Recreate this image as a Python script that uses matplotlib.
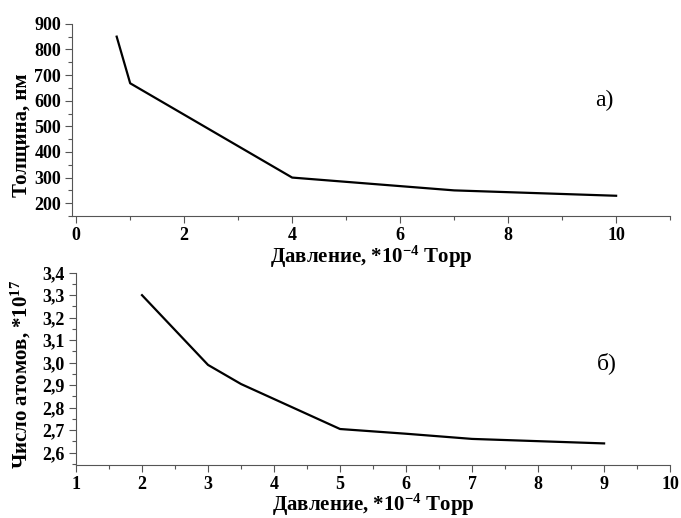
import matplotlib
matplotlib.use('Agg')
import matplotlib.pyplot as plt
from matplotlib.ticker import MultipleLocator, FuncFormatter

plt.rcParams.update({
    "font.family": ["Liberation Serif", "DejaVu Serif"],
    "font.weight": "bold",
    "mathtext.fontset": "custom",
    "mathtext.rm": "Liberation Serif:bold",
    "mathtext.it": "Liberation Serif:bold",
    "mathtext.bf": "Liberation Serif:bold",
})

# panel a) thickness vs pressure
press_a = [0.75, 1, 4, 7, 10]
thick_a = [850, 668, 300, 250, 229]

# panel б) number of atoms vs pressure
press_b = [2, 3, 3.5, 5, 6, 7, 8, 9]
atoms_b = [3.30, 2.99, 2.905, 2.705, 2.684, 2.661, 2.651, 2.641]

xlabel = "Давление, *10$^{-4}$ Торр"

fig = plt.figure(figsize=(6.81, 5.18), dpi=100)
ax1 = fig.add_axes([0.106, 0.583, 0.878, 0.371])
ax2 = fig.add_axes([0.1116, 0.1023, 0.8724, 0.3713])

spine_col = "#555555"
for ax in (ax1, ax2):
    for s in ("top", "right"):
        ax.spines[s].set_visible(False)
    for s in ("left", "bottom"):
        ax.spines[s].set_color(spine_col)
        ax.spines[s].set_linewidth(0.8)
    ax.tick_params(which="major", direction="out", length=5, width=0.8,
                   color=spine_col, labelsize=13, pad=3)
    ax.tick_params(which="minor", direction="out", length=3, width=0.8,
                   color=spine_col)

ax1.plot(press_a, thick_a, color="black", lw=1.6)
ax1.set_xlim(-0.074, 11.0)
ax1.set_ylim(150, 900)
ax1.xaxis.set_minor_locator(MultipleLocator(1))
ax1.yaxis.set_minor_locator(MultipleLocator(50))
ax1.set_yticks([200, 300, 400, 500, 600, 700, 800, 900])
ax1.set_xticks([0, 2, 4, 6, 8, 10])
ax1.set_xlabel(xlabel, fontsize=15, fontweight="bold", labelpad=0)
ax1.set_ylabel("Толщина, нм", fontsize=15, fontweight="bold")
ax1.yaxis.set_label_coords(-0.068, 0.42)
ax1.text(0.905, 0.57, "а)", transform=ax1.transAxes, fontsize=17,
         fontweight="normal", ha="right")

ax2.plot(press_b, atoms_b, color="black", lw=1.6)
ax2.set_xlim(1, 10)
ax2.set_ylim(2.545, 3.4)
ax2.xaxis.set_major_locator(MultipleLocator(1))
ax2.xaxis.set_minor_locator(MultipleLocator(0.5))
ax2.set_yticks([2.6, 2.7, 2.8, 2.9, 3.0, 3.1, 3.2, 3.3, 3.4])
ax2.yaxis.set_minor_locator(MultipleLocator(0.05))
ax2.yaxis.set_major_formatter(FuncFormatter(lambda v, p: f"{v:.1f}".replace(".", ",")))
ax2.set_xlabel(xlabel, fontsize=15, fontweight="bold", labelpad=-1)
ax2.set_ylabel("Число атомов, *10$^{17}$", fontsize=15, fontweight="bold")
ax2.yaxis.set_label_coords(-0.072, 0.47)
ax2.text(0.91, 0.5, "б)", transform=ax2.transAxes, fontsize=17,
         fontweight="normal", ha="right")

fig.savefig("out.png", dpi=100)
